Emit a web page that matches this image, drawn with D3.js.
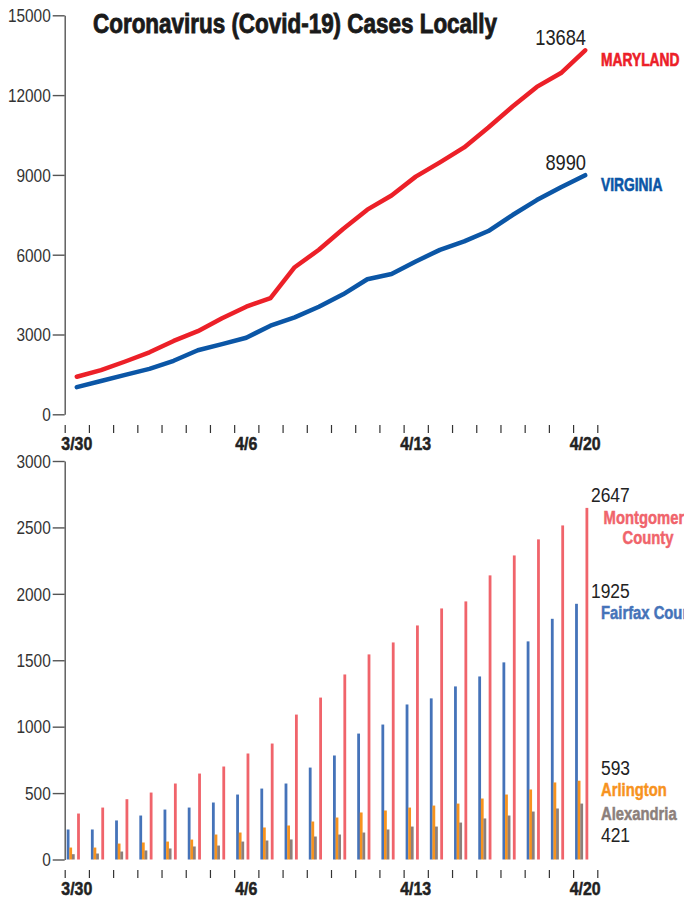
<!DOCTYPE html>
<html>
<head>
<meta charset="utf-8">
<script src="https://cdn.jsdelivr.net/npm/d3@7"></script>
<style>
  html, body { margin: 0; padding: 0; background: #fff; }
  svg { display: block; }
  text { font-family: "Liberation Sans", Arial, sans-serif; }
</style>
</head>
<body>
<svg id="chart" width="684" height="900"></svg>
<script>
const dates = ["3/30", "3/31", "4/1", "4/2", "4/3", "4/4", "4/5", "4/6", "4/7", "4/8", "4/9",
  "4/10", "4/11", "4/12", "4/13", "4/14", "4/15", "4/16", "4/17", "4/18", "4/19", "4/20"];
const dateLabels = ["3/30", "4/6", "4/13", "4/20"];

// statewide totals
const maryland = [1413, 1660, 1985, 2331, 2758, 3125, 3609, 4045, 4371, 5529, 6185,
  6968, 7694, 8225, 8936, 9472, 10032, 10784, 11572, 12308, 12830, 13684];
const virginia = [1020, 1250, 1484, 1706, 2012, 2407, 2637, 2878, 3333, 3645, 4042,
  4509, 5077, 5274, 5747, 6182, 6500, 6889, 7491, 8053, 8537, 8990];

// counties
const fairfax = [226, 226, 294, 331, 376, 391, 429, 489, 534, 572, 692,
  783, 948, 1016, 1167, 1213, 1303, 1378, 1484, 1642, 1812, 1925];
const arlington = [90, 90, 120, 128, 135, 150, 188, 203, 241, 256, 286,
  316, 354, 369, 391, 406, 421, 459, 489, 527, 580, 593];
const alexandria = [40, 45, 60, 68, 83, 98, 105, 135, 143, 151, 173,
  188, 203, 226, 248, 248, 278, 309, 331, 361, 384, 421];
const montgomery = [346, 391, 454, 504, 572, 647, 700, 798, 873, 1091, 1219,
  1393, 1544, 1634, 1762, 1890, 1943, 2139, 2289, 2410, 2515, 2647];

const lineTicks = [0, 3000, 6000, 9000, 12000, 15000];
const barTicks = [0, 500, 1000, 1500, 2000, 2500, 3000];

const svg = d3.select("#chart");

// no narrow font installed, so squeeze Liberation Sans horizontally
function squeeze(sel, k) {
  sel.each(function () {
    const t = d3.select(this);
    const tx = +t.attr("x") || 0, ty = +t.attr("y") || 0;
    t.attr("transform", `translate(${tx},${ty}) scale(${k},1)`).attr("x", 0).attr("y", 0);
  });
}

const left = 64.7, right = 597.3;
const x = d3.scaleBand().domain(dates).range([left, right]);
const xEdge = d3.scaleLinear().domain([0, dates.length]).range([left, right]);

// ---------- top: line chart ----------
const y1 = d3.scaleLinear().domain([0, 15000]).range([414.3, 15.3]);

const gy1 = svg.append("g")
  .attr("transform", `translate(${left},0)`)
  .call(d3.axisLeft(y1).tickValues(lineTicks).tickFormat(d3.format("d"))
    .tickSize(12).tickSizeOuter(0).tickPadding(2));

svg.append("text")
  .attr("x", 93).attr("y", 33)
  .attr("textLength", 404).attr("lengthAdjust", "spacingAndGlyphs")
  .style("font-size", "28px").style("font-weight", "bold")
  .attr("fill", "#1a1a1a").attr("stroke", "#1a1a1a").attr("stroke-width", 0.9)
  .text("Coronavirus (Covid-19) Cases Locally");

const line = d3.line()
  .x((d, i) => x(dates[i]) + x.bandwidth() / 2)
  .y(d => y1(d));

const states = [
  { name: "MARYLAND", values: maryland, color: "#ec2028", valueY: 45, nameY: 65.5 },
  { name: "VIRGINIA", values: virginia, color: "#0b56a6", valueY: 170, nameY: 190.5 }
];

svg.append("g").selectAll("path")
  .data(states)
  .join("path")
  .attr("fill", "none")
  .attr("stroke", d => d.color)
  .attr("stroke-width", 4.5)
  .attr("stroke-linejoin", "round")
  .attr("stroke-linecap", "round")
  .attr("d", d => line(d.values));

svg.append("g").selectAll("text")
  .data(states)
  .join("text")
  .attr("x", 586).attr("y", d => d.valueY)
  .attr("text-anchor", "end")
  .style("font-size", "22px").attr("fill", "#222")
  .text(d => d.values[d.values.length - 1])
  .call(squeeze, 0.83);

svg.append("g").selectAll("text")
  .data(states)
  .join("text")
  .attr("x", 601).attr("y", d => d.nameY)
  .style("font-size", "17.5px").style("font-weight", "bold")
  .attr("fill", d => d.color).attr("stroke", d => d.color).attr("stroke-width", 0.6)
  .text(d => d.name)
  .call(squeeze, 0.79);

function dayAxis(yTick, yLabel) {
  svg.append("g")
    .attr("transform", `translate(0,${yTick})`)
    .call(d3.axisBottom(xEdge).tickValues(d3.range(dates.length + 1)).tickSize(8).tickFormat(""))
    .call(g => g.select(".domain").remove())
    .call(g => g.selectAll("line").attr("stroke", "#333").attr("stroke-width", 1.2));

  svg.append("g")
    .attr("transform", `translate(0,${yLabel})`)
    .call(d3.axisBottom(x).tickValues(dateLabels).tickSize(0).tickPadding(0))
    .call(g => g.select(".domain").remove())
    .call(g => g.selectAll("text")
      .attr("dy", 0).attr("y", 0)
      .style("font-size", "18.5px").style("font-weight", "bold")
      .attr("fill", "#222").attr("stroke", "#222").attr("stroke-width", 0.5)
      .call(squeeze, 0.86));
}

dayAxis(425, 450);

// ---------- bottom: bar chart ----------
const y2 = d3.scaleLinear().domain([0, 3000]).range([859.5, 461]);

const gy2 = svg.append("g")
  .attr("transform", `translate(${left},0)`)
  .call(d3.axisLeft(y2).tickValues(barTicks).tickFormat(d3.format("d"))
    .tickSize(12).tickSizeOuter(0).tickPadding(2));

[gy1, gy2].forEach(g => {
  g.select(".domain").attr("stroke", "#555").attr("stroke-width", 1.4);
  g.selectAll(".tick line").attr("stroke", "#555").attr("stroke-width", 1.4);
  g.selectAll(".tick text")
    .style("font-size", "17.5px").attr("fill", "#333").attr("dy", "0.36em")
    .call(squeeze, 0.88);
});

const counties = [
  { key: "Fairfax County", values: fairfax, color: "#4573b9" },
  { key: "Arlington", values: arlington, color: "#f7931e" },
  { key: "Alexandria", values: alexandria, color: "#8c7f7b" },
  { key: "Montgomery County", values: montgomery, color: "#f0646b" }
];

// four slots plus an empty one before Montgomery
const xSub = d3.scaleBand()
  .domain(["Fairfax County", "Arlington", "Alexandria", "", "Montgomery County"])
  .range([2, 15]);

svg.append("g").selectAll("g")
  .data(counties)
  .join("g")
  .attr("fill", d => d.color)
  .selectAll("rect")
  .data(d => d.values.map((v, i) => ({ key: d.key, date: dates[i], value: v })))
  .join("rect")
  .attr("x", d => x(d.date) + xSub(d.key))
  .attr("width", 2.8)
  .attr("y", d => y2(d.value))
  .attr("height", d => y2(0) - y2(d.value));

const barLabels = [
  { text: montgomery[montgomery.length - 1], x: 591, y: 502, size: 21, color: "#222" },
  { text: "Montgomery", x: 648, y: 523.5, size: 18.5, bold: true, color: "#f0646b", anchor: "middle" },
  { text: "County", x: 648, y: 544, size: 18.5, bold: true, color: "#f0646b", anchor: "middle" },
  { text: fairfax[fairfax.length - 1], x: 591, y: 598, size: 21, color: "#222" },
  { text: "Fairfax County", x: 601, y: 618.5, size: 18.5, bold: true, color: "#4573b9" },
  { text: arlington[arlington.length - 1], x: 601, y: 775, size: 21, color: "#222" },
  { text: "Arlington", x: 601, y: 796, size: 18.5, bold: true, color: "#f7931e" },
  { text: "Alexandria", x: 601, y: 819.5, size: 18.5, bold: true, color: "#8c7f7b" },
  { text: alexandria[alexandria.length - 1], x: 601, y: 841.5, size: 21, color: "#222" }
];

svg.append("g").selectAll("text")
  .data(barLabels)
  .join("text")
  .attr("x", d => d.x).attr("y", d => d.y)
  .attr("text-anchor", d => d.anchor || "start")
  .style("font-size", d => d.size + "px")
  .style("font-weight", d => d.bold ? "bold" : "normal")
  .attr("fill", d => d.color)
  .attr("stroke", d => d.bold ? d.color : "none")
  .attr("stroke-width", 0.5)
  .text(d => d.text)
  .each(function (d) { d3.select(this).call(squeeze, d.bold ? 0.8 : 0.83); });

dayAxis(870, 895);
</script>
</body>
</html>
